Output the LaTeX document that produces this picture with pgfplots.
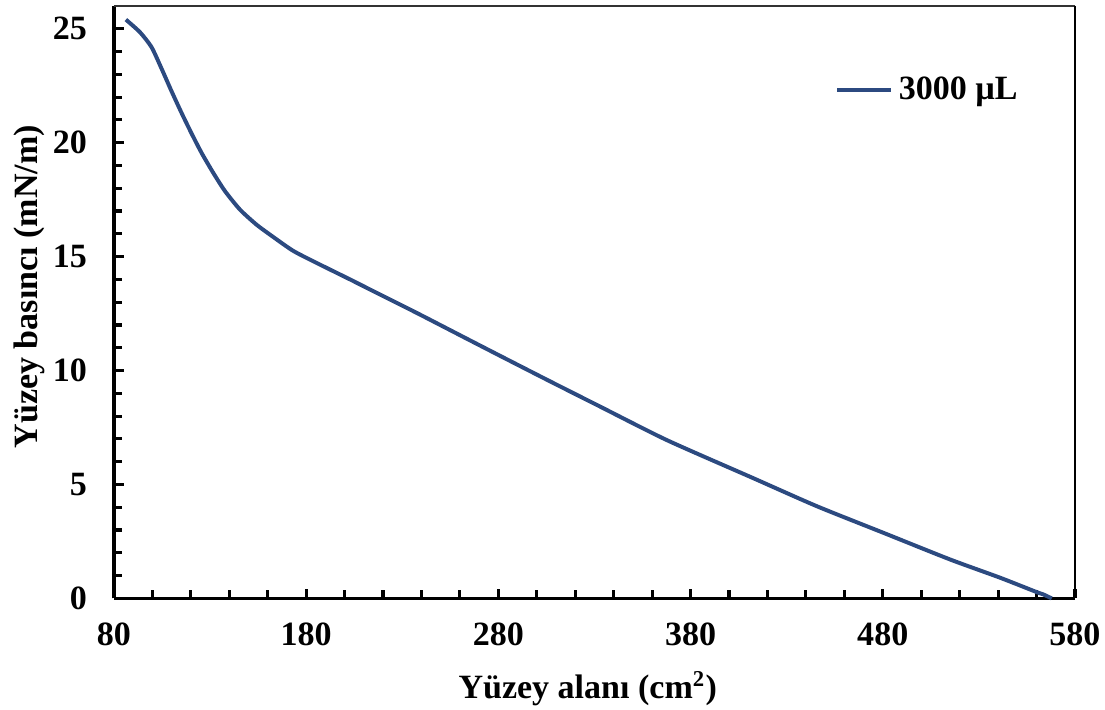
\documentclass[border=0pt]{standalone}
\usepackage{pgfplots}
\pgfplotsset{compat=1.18}
\usepackage{fontspec}
\setmainfont{Liberation Serif}
\definecolor{curveblue}{RGB}{44,74,128}

\begin{document}
\begin{tikzpicture}
\begin{axis}[
    scale only axis,
    width=339pt,
    height=209pt,
    xmin=80, xmax=580,
    ymin=0, ymax=26,
    xtick={80,180,280,380,480,580},
    ytick={0,5,10,15,20,25},
    minor x tick num=4,
    minor y tick num=4,
    axis lines=left,
    axis line style={-, line width=1.3pt, black},
    tick align=inside,
    major tick length=3.4pt,
    minor tick length=2.8pt,
    tick style={line width=1.1pt, black},
    font=\fontsize{12}{14}\selectfont\bfseries,
    /pgf/number format/assume math mode=true,
    ticklabel style={font=\fontsize{12}{14}\selectfont\bfseries},
    yticklabel style={xshift=-6pt},
    xticklabel style={yshift=-5pt},
    xlabel={Yüzey alanı (cm\textsuperscript{2})},
    ylabel={Yüzey basıncı (mN/m)},
    xlabel style={at={(axis description cs:0.493,0)}, anchor=base, yshift=-35.3pt},
    ylabel style={at={(axis description cs:0,0.526)}, anchor=base, yshift=26.8pt},
    legend style={at={(axis cs:455,22.3)}, anchor=west, draw=none, fill=none,
        font=\fontsize{12}{14}\selectfont\bfseries, inner sep=0pt,
        /tikz/every even column/.append style={column sep=0pt}},
    legend cell align={left},
    legend image code/.code={\draw[#1] (0pt,0pt) -- (19pt,0pt);},
    clip=false,
]
\coordinate (sw) at (rel axis cs:0,0);
\coordinate (ne) at (rel axis cs:1,1);
\draw[line width=0.5pt, black!80] (rel axis cs:0,1) -- (rel axis cs:1,1);
\draw[line width=0.9pt, black] (rel axis cs:1,1) -- (rel axis cs:1,0);

% surface pressure isotherm
\addplot[line width=1.4pt, curveblue, line join=round, smooth, tension=0.4] coordinates {
    (86.2,25.40)
    (93.5,24.85)
    (99.5,24.20)
    (104.5,23.30)
    (110.0,22.25)
    (115.2,21.30)
    (120.4,20.40)
    (125.6,19.55)
    (131.7,18.67)
    (137.8,17.87)
    (145.6,17.06)
    (154.2,16.40)
    (162.9,15.86)
    (173.3,15.25)
    (185.5,14.72)
    (202.8,14.00)
    (211.5,13.63)
    (237.5,12.53)
    (263.5,11.40)
    (280.8,10.65)
    (306.8,9.53)
    (332.9,8.42)
    (367.6,6.95)
    (412.0,5.30)
    (445.6,4.05)
    (480.3,2.88)
    (515.0,1.71)
    (541.0,0.91)
    (560.0,0.28)
    (563.4,0.18)
    (567.9,0.00)
};
\addlegendentry{3000 µL}
\end{axis}
\pgfresetboundingbox
\path ([xshift=-40.2pt,yshift=-39.2pt]sw) rectangle ([xshift=10.6pt,yshift=2.1pt]ne);
\end{tikzpicture}
\end{document}
